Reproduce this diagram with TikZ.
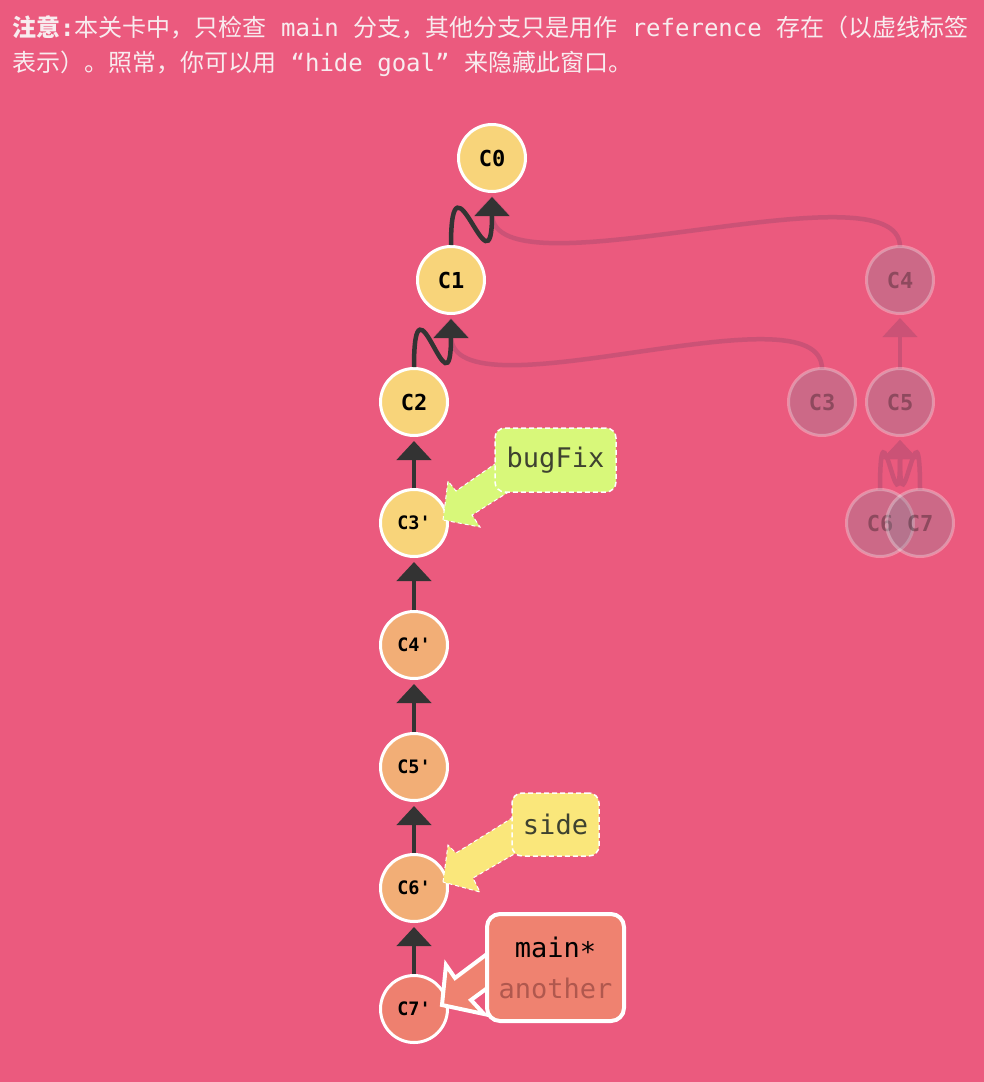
\documentclass[tikz,border=0pt]{standalone}
\usepackage{fontspec}
\newfontfamily\cjk{Noto Sans CJK SC}
\newfontfamily\mono{DejaVu Sans Mono}
\usetikzlibrary{arrows.meta,calc}
\definecolor{bg}{HTML}{EB5A7E}
\definecolor{headcol}{HTML}{F8ECEF}
\definecolor{yel}{HTML}{F8D47A}
\definecolor{ora}{HTML}{F2AE76}
\definecolor{sal}{HTML}{EE806F}
\definecolor{ghostfill}{HTML}{858C9C}
\definecolor{edgecol}{HTML}{333333}
\definecolor{ghostedgecol}{HTML}{CB5276}
\definecolor{bugcol}{HTML}{D8F87A}
\definecolor{sidecol}{HTML}{FAE77B}
\definecolor{maincol}{HTML}{EF8270}
\definecolor{labtext}{HTML}{3E4230}
\definecolor{anothercol}{HTML}{B0584E}
\tikzset{
  commit/.style={circle, minimum size=67pt, inner sep=0pt, draw=white, line width=3pt,
    text=black, font=\mono\bfseries\fontsize{22}{22}\selectfont},
  smallcommit/.style={commit, font=\mono\bfseries\fontsize{18.5}{18.5}\selectfont},
  ghost/.style={commit, fill=ghostfill, opacity=0.3},
  parent/.style={line width=4.5pt, draw=edgecol, -{Triangle[width=34pt,length=19pt]}},
  ghostedge/.style={parent, draw=ghostedgecol},
  tagarrow/.style={draw=white, line width=1pt, dash pattern=on 4pt off 3pt},
  tag/.style={rounded corners=10pt, inner sep=0pt, draw=white, line width=1.5pt,
    dash pattern=on 5pt off 3pt, text=labtext, font=\mono\fontsize{27}{27}\selectfont},
}
\begin{document}
\begin{tikzpicture}[x=1pt,y=-1pt]
\fill[bg] (0,0) rectangle (984,1082);
\useasboundingbox (0,0) rectangle (984,1082);

% header
\node[anchor=base west, inner sep=0pt, text=headcol, font=\cjk\fontsize{24}{24}\selectfont] (note1) at (12,36)
  {{\bfseries 注意}{\mono\bfseries :}本关卡中，只检查{\mono\ main\ }分支，其他分支只是用作{\mono\ reference\ }存在（以虚线标签};
\node[anchor=base west, inner sep=0pt, text=headcol, font=\cjk\fontsize{24}{24}\selectfont] (note2) at (12,71)
  {表示）。照常，你可以用{\mono\ “hide goal”\ }来隐藏此窗口。};

% ghost edges
\draw[ghostedge] (900,247) .. controls +(0,-87) and +(0,104) .. (492,196);
\draw[ghostedge] (822,369) .. controls +(0,-87) and +(0,104) .. (451,318);
\draw[ghostedge] (900,369) -- (900,318);
\draw[ghostedge] (880,490) .. controls +(0,-106) and +(0,104) .. (900,440);
\draw[ghostedge] (920,490) .. controls +(0,-106) and +(0,104) .. (900,440);

% ghost commits
\node[ghost] (G4) at (900,280) {C4};
\node[ghost] (G3) at (822,402) {C3};
\node[ghost] (G5) at (900,402) {C5};
\node[ghost] (G6) at (880,523) {C6};
\node[ghost] (G7) at (920,523) {C7};

% main commits
\node[commit, fill=yel] (C0) at (492,158) {C0};
\node[commit, fill=yel] (C1) at (451,280) {C1};
\node[commit, fill=yel] (C2) at (414,402) {C2};
\node[smallcommit, fill=yel] (C3p) at (414,523) {C3'};
\node[smallcommit, fill=ora] (C4p) at (414,645) {C4'};
\node[smallcommit, fill=ora] (C5p) at (414,767) {C5'};
\node[smallcommit, fill=ora] (C6p) at (414,888) {C6'};
\node[smallcommit, fill=sal] (C7p) at (414,1009) {C7'};

% main edges
\draw[parent] (C1.north) .. controls +(0,-106) and +(0,104) .. ($(C0.south)+(0,4)$);
\draw[parent] (C2.north) .. controls +(0,-106) and +(0,104) .. ($(C1.south)+(0,4)$);
\draw[parent] (C3p.north) -- ($(C2.south)+(0,4)$);
\draw[parent] (C4p.north) -- ($(C3p.south)+(0,4)$);
\draw[parent] (C5p.north) -- ($(C4p.south)+(0,4)$);
\draw[parent] (C6p.north) -- ($(C5p.south)+(0,4)$);
\draw[parent] (C7p.north) -- ($(C6p.south)+(0,4)$);

% branch label arrows
\filldraw[tagarrow, fill=bugcol] (443,520) -- (448,481) -- (456,491) -- (505,457) -- (518,486) -- (472,515) -- (480,527) -- cycle;
\filldraw[tagarrow, fill=sidecol] (443,882) -- (448,845) -- (456,853) -- (520,813) -- (528,846) -- (473,878) -- (480,892) -- cycle;
\draw[white, line width=4pt, fill=maincol, line join=miter] (442,1005) -- (446,965) -- (455,978) -- (495,948) -- (505,975) -- (471,1000) -- (484,1014) -- cycle;

% branch labels
\node[tag, fill=bugcol, minimum width=121pt, minimum height=64pt] (bugFix) at (555.5,460) {bugFix};
\node[tag, fill=sidecol, minimum width=87pt, minimum height=63pt] (side) at (555.5,824.5) {side};
\node[rounded corners=13pt, inner sep=0pt, draw=white, line width=4pt, fill=maincol,
  minimum width=137pt, minimum height=107pt, align=center, text=black,
  font=\mono\fontsize{27}{41}\selectfont] (main) at (555.5,967.5) {main\raisebox{-0.3ex}{*}\\{\color{anothercol}another}};
\end{tikzpicture}
\end{document}
